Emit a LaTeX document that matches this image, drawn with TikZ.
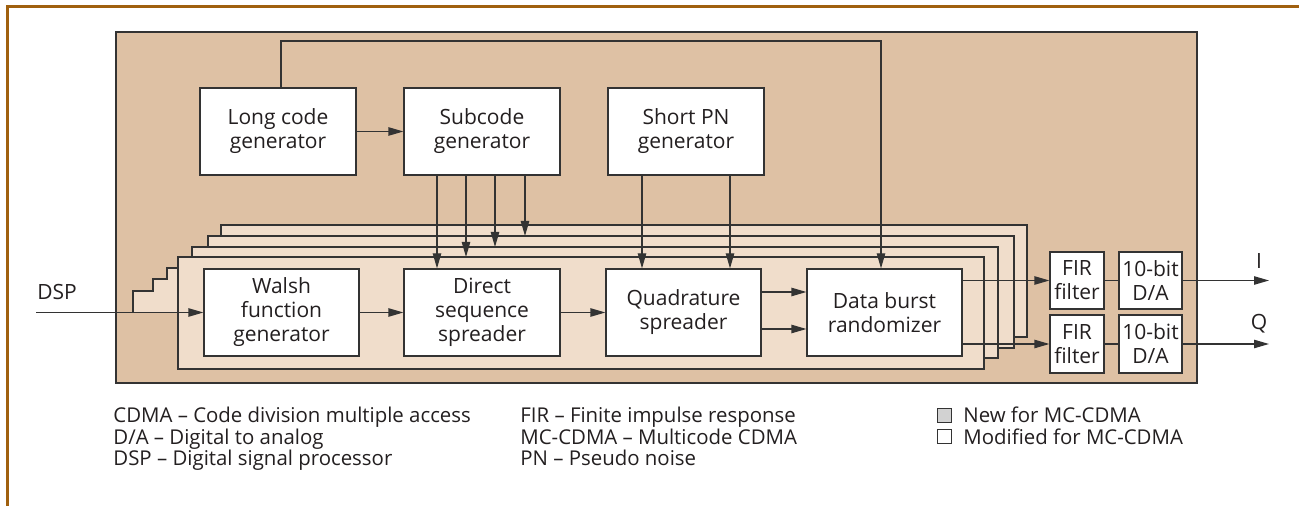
\documentclass[tikz,border=0pt]{standalone}
\usepackage{fontspec}
\setmainfont{Open Sans}
\usetikzlibrary{arrows.meta}
\definecolor{framec}{HTML}{A0600F}
\definecolor{tanc}{HTML}{DEC1A4}
\definecolor{layc}{HTML}{F0DDCB}
\definecolor{linec}{HTML}{333333}
\definecolor{textc}{HTML}{231F20}
\definecolor{newc}{HTML}{D2D2D2}
\newcommand\dfont{\fontsize{10.5pt}{12pt}\selectfont}
\newcommand\lfont{\fontsize{10.2pt}{11pt}\selectfont}
\begin{document}
\begin{tikzpicture}[x=0.5pt,y=-0.5pt,
  blk/.style={draw=linec, fill=white, line width=0.6pt, inner sep=0pt, align=center, text=textc, font=\dfont, minimum width=78pt, minimum height=43.5pt},
  smallblk/.style={blk, minimum width=27pt, minimum height=28.5pt},
  dablk/.style={blk, minimum width=31.5pt, minimum height=28.5pt},
  conn/.style={draw=linec, line width=0.6pt},
  arr/.style={conn, -{Triangle[length=7.5pt,width=4.2pt]}},
  lay/.style={draw=linec, fill=layc, line width=0.6pt},
  lbl/.style={text=textc, font=\dfont, inner sep=0pt},
  leg/.style={text=textc, font=\lfont, inner sep=0pt, anchor=base west},
  legsq/.style={draw=linec, line width=0.5pt, minimum size=7pt, inner sep=0pt}]
\useasboundingbox (0,0) rectangle (1299,506);
\fill[white] (0,0) rectangle (1299,506);
\draw[framec, line width=1.5pt] (7,506) -- (7,7) -- (1299,7);
\draw[fill=tanc, draw=linec, line width=0.7pt] (116,32) rectangle (1197,383);
% staircase of hidden layers on the left
\fill[layc] (178,313) -- (133,313) -- (133,291) -- (153,291) -- (153,279) -- (167,279) -- (167,268) -- (178,268) -- cycle;
\draw[conn] (133,313) -- (133,291) -- (153,291) -- (153,279) -- (167,279) -- (167,268) -- (178,268);
% layers
\draw[lay] (221,225) rectangle (1027,337);
\draw[lay] (208,236) rectangle (1014,348);
\draw[lay] (192,247) rectangle (998,358);
\draw[lay] (178,257) rectangle (984,369);
\coordinate (l1top) at (0,257);
\coordinate (l2top) at (0,247);
\coordinate (l3top) at (0,236);
% top blocks
\node[blk] (lc) at (278,131.5) {Long code\\generator};
\node[blk] (sc) at (482,131.5) {Subcode\\generator};
\node[blk] (sp) at (686,131.5) {Short PN\\generator};
% front blocks
\node[blk, minimum width=77.5pt] (wf) at (281.5,312.5) {Walsh\\function\\generator};
\node[blk] (ds) at (482,312.5) {Direct\\sequence\\spreader};
\node[blk, minimum width=77.5pt] (qs) at (683.5,312.5) {Quadrature\\spreader};
\node[blk, minimum width=77.5pt] (db) at (884.5,312.5) {Data burst\\randomizer};
% output blocks
\node[smallblk] (fir1) at (1077,280.5) {FIR\\filter};
\node[smallblk, minimum height=29pt] (fir2) at (1077,344) {FIR\\filter};
\node[dablk] (da1) at (1150.5,280.5) {10-bit\\D/A};
\node[dablk, minimum height=29pt] (da2) at (1150.5,344) {10-bit\\D/A};
% connectors
\draw[arr] (lc) -- (sc);
\coordinate (fbA) at (281,41);
\coordinate (fbB) at (881,41);
\draw[arr] ([xshift=1.5pt]lc.north) -- (fbA) -- (fbB) -- ([xshift=-1.75pt]db.north);
\draw[arr] ([xshift=-22.5pt]sc.south) -- ([xshift=-22.5pt]ds.north);
\draw[arr] ([xshift=-8pt]sc.south) -- ([xshift=-8pt]sc.south |- l1top);
\draw[arr] ([xshift=6.5pt]sc.south) -- ([xshift=6.5pt]sc.south |- l2top);
\draw[arr] ([xshift=21.5pt]sc.south) -- ([xshift=21.5pt]sc.south |- l3top);
\draw[arr] ([xshift=-22pt]sp.south) -- ([xshift=-22pt]sp.south |- qs.north);
\draw[arr] ([xshift=22pt]sp.south) -- ([xshift=22pt]sp.south |- qs.north);
\coordinate (dspin) at (36,312.5);
\draw[arr] (dspin) -- (wf.west);
\draw[arr] (wf) -- (ds);
\draw[arr] (ds) -- (qs);
\draw[arr] ([yshift=10.25pt]qs.east) -- ([yshift=10.25pt]qs.east -| db.west);
\draw[arr] ([yshift=-8.25pt]qs.east) -- ([yshift=-8.25pt]qs.east -| db.west);
\draw[arr] (db.east |- fir1.west) -- (fir1.west);
\draw[arr] (db.east |- fir2.west) -- (fir2.west);
\draw[conn] (fir1) -- (da1);
\draw[conn] (fir2) -- (da2);
\coordinate (oI) at (1269,280.5);
\coordinate (oQ) at (1269,344);
\draw[arr] (da1.east) -- (oI);
\draw[arr] (da2.east) -- (oQ);
% labels
\node[lbl, anchor=west] (dsp) at (37,292) {DSP};
\node[lbl] (ilbl) at (1259,261) {I};
\node[lbl] (qlbl) at (1259,324) {Q};
% legend
\node[leg] (g1) at (113,423) {CDMA – Code division multiple access};
\node[leg] (g2) at (113,444.5) {D/A – Digital to analog};
\node[leg] (g3) at (113,466) {DSP – Digital signal processor};
\node[leg] (g4) at (520,423) {FIR – Finite impulse response};
\node[leg] (g5) at (520,444.5) {MC-CDMA – Multicode CDMA};
\node[leg] (g6) at (520,466) {PN – Pseudo noise};
\node[legsq, fill=newc] (s1) at (944.5,415.5) {};
\node[legsq, fill=white] (s2) at (944.5,437) {};
\node[leg] (g7) at (963,423) {New for MC-CDMA};
\node[leg] (g8) at (963,444.5) {Modified for MC-CDMA};
\end{tikzpicture}
\end{document}
